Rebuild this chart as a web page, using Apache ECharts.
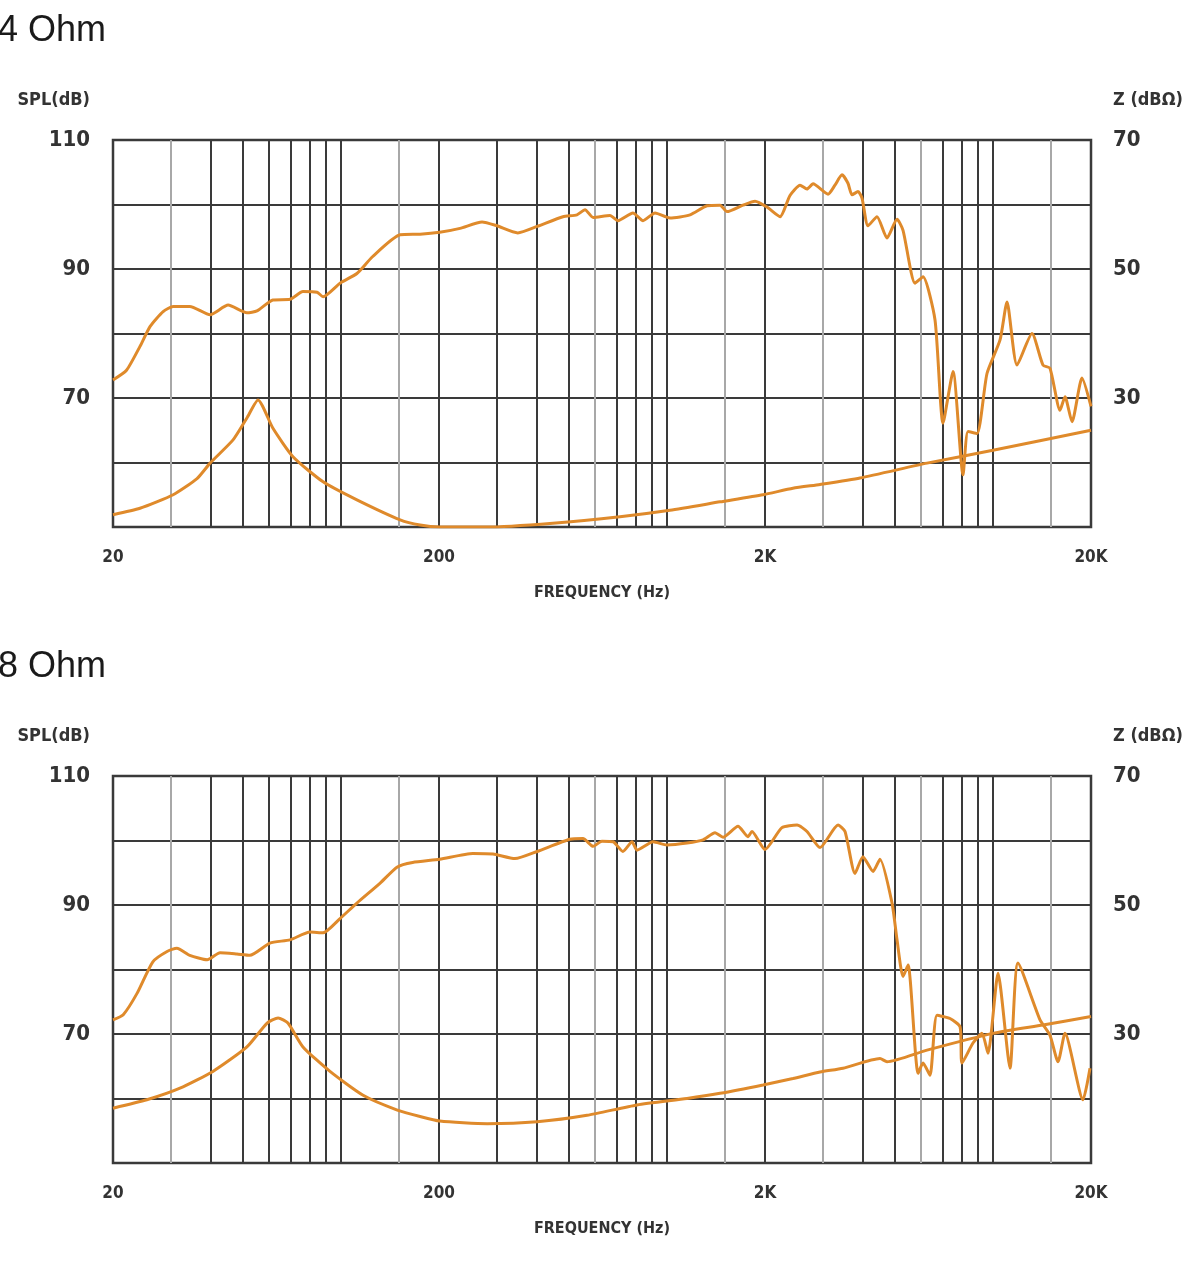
<!DOCTYPE html>
<html>
<head>
<meta charset="utf-8">
<script src="https://cdn.jsdelivr.net/npm/echarts@6/dist/echarts.min.js"></script>
<style>
html,body{margin:0;padding:0;background:#fff;}
#c{width:1202px;height:1280px;}
</style>
</head>
<body>
<div id="c"></div>
<script>
// ---------- DATA ----------
const panelTitles = ['4 Ohm', '8 Ohm'];
const xTickValues = [20, 200, 2000, 20000];
const xTickText = ['20', '200', '2K', '20K'];
const splTickLabels = [70, 90, 110];
const zTickLabels = [30, 50, 70];
const darkGridFreqs = [40, 50, 60, 70, 80, 90, 100, 200, 300, 400, 500, 700, 800, 900, 1000, 2000, 4000, 5000, 7000, 8000, 9000, 10000];
const lightGridFreqs = [30, 150, 600, 1500, 3000, 6000, 15000];

// 4 Ohm - SPL
const spl4Freq = [20, 22, 24.2, 26, 28.5, 30.6, 34.4, 39.7, 45.1, 51.5, 55.3, 61.9, 69.8, 76.5, 84.5, 88.2, 99.4, 112, 125, 152, 175, 201, 232, 271, 301, 349, 400, 480, 530, 561, 594, 669, 708, 787, 845, 920, 1022, 1178, 1328, 1456, 1529, 1712, 1864, 2028, 2224, 2386, 2562, 2690, 2808, 3122, 3278, 3446, 3594, 3698, 3858, 3968, 4140, 4412, 4734, 5082, 5302, 5770, 6106, 6646, 7032, 7548, 8100, 8390, 8942, 9594, 10520, 11050, 11858, 13184, 14250, 14970, 16070, 16646, 17490, 18768, 20000];
const spl4Val  = [72.8, 74.3, 78.0, 81.1, 83.4, 84.2, 84.2, 82.9, 84.4, 83.2, 83.5, 85.2, 85.3, 86.5, 86.4, 85.7, 87.8, 89.3, 91.9, 95.3, 95.4, 95.7, 96.3, 97.3, 96.7, 95.6, 96.6, 98.1, 98.4, 99.2, 98.0, 98.3, 97.5, 98.7, 97.5, 98.7, 97.9, 98.4, 99.8, 99.9, 98.9, 99.9, 100.5, 99.6, 98.1, 101.4, 103.0, 102.4, 103.2, 101.6, 103.0, 104.6, 103.3, 101.5, 102.0, 101.0, 96.7, 98.1, 94.8, 97.7, 96.0, 87.8, 88.8, 82.1, 66.1, 74.1, 58.1, 64.8, 64.5, 73.8, 79.0, 84.9, 75.1, 80.0, 75.1, 74.6, 68.1, 70.2, 66.3, 73.1, 68.7];
// 4 Ohm - impedance
const z4Freq = [20, 24.2, 30.6, 36.2, 39.7, 46.7, 51.5, 55.7, 61.9, 71.3, 88.2, 112, 152, 175, 201, 281, 447, 718, 1022, 1456, 1972, 2436, 2950, 3912, 6280, 10010, 20000];
const z4Val  = [11.9, 12.9, 15.0, 17.5, 19.9, 23.5, 26.9, 29.7, 25.3, 20.9, 17.0, 14.2, 11.1, 10.3, 10.0, 10.0, 10.6, 11.6, 12.6, 13.9, 15.0, 16.0, 16.6, 17.6, 19.9, 21.9, 25.0];

// 8 Ohm - SPL
const spl8Freq = [20, 21.5, 23.7, 26.5, 29.3, 31.4, 34.4, 38.9, 42.6, 48.0, 52.6, 60.6, 69.8, 80.4, 88.2, 99.4, 112, 132, 149, 166, 201, 254, 293, 342, 400, 504, 553, 594, 632, 684, 733, 782, 810, 907, 1001, 1153, 1291, 1405, 1487, 1653, 1773, 1824, 2000, 2254, 2508, 2690, 2950, 3350, 3520, 3776, 3994, 4290, 4506, 4906, 5082, 5302, 5494, 5896, 6106, 6414, 6740, 7388, 7932, 8040, 8690, 9260, 9662, 10372, 11288, 11942, 13952, 14970, 15846, 16646, 18902, 19858];
const spl8Val  = [72.2, 73.0, 76.3, 81.2, 82.8, 83.3, 82.2, 81.5, 82.6, 82.4, 82.2, 84.1, 84.6, 85.8, 85.7, 87.9, 90.3, 93.4, 95.9, 96.6, 97.1, 98.0, 97.9, 97.2, 98.3, 100.2, 100.3, 99.1, 99.9, 99.8, 98.3, 99.8, 98.5, 99.8, 99.3, 99.6, 100.1, 101.2, 100.5, 102.2, 100.6, 101.4, 98.6, 102.0, 102.4, 101.4, 98.9, 102.4, 101.4, 94.9, 97.5, 95.2, 97.1, 90.3, 84.6, 78.9, 80.7, 63.9, 65.5, 63.6, 72.9, 72.4, 71.1, 65.5, 68.6, 70.1, 67.0, 79.4, 64.7, 81.0, 72.2, 69.8, 65.7, 70.1, 59.8, 64.7];
// 8 Ohm - impedance
const z8Freq = [20, 25.4, 32.1, 40.5, 51.5, 59.4, 64.2, 68.8, 76.5, 92.6, 117, 149, 175, 201, 281, 400, 569, 810, 1153, 1456, 1972, 2436, 2950, 3470, 4506, 4734, 6280, 10010, 14250, 20000];
const z8Val  = [18.5, 19.8, 21.6, 24.2, 28.0, 31.7, 32.5, 31.7, 28.0, 24.2, 20.5, 18.2, 17.2, 16.5, 16.1, 16.4, 17.4, 19.0, 20.0, 20.8, 22.1, 23.1, 24.1, 24.7, 26.2, 25.7, 27.5, 30.1, 31.4, 32.7];

// ---------- STYLE ----------
const ORANGE = '#DF8A2B';
const DARK = '#3a3a3a';
const LIGHT = '#a8a8a8';
const NARROW = '"Liberation Sans Narrow", "DejaVu Sans Condensed", "Roboto Condensed", sans-serif';
const TEXT = '#333';

function zip(f, v) { return f.map((x, i) => [x, v[i]]); }
function xFmt(v) {
  const r = Math.round(v);
  const i = xTickValues.indexOf(r);
  return i >= 0 ? xTickText[i] : '';
}

const panels = [
  { top: 140, spl: zip(spl4Freq, spl4Val), z: zip(z4Freq, z4Val) },
  { top: 776, spl: zip(spl8Freq, spl8Val), z: zip(z8Freq, z8Val) }
];

const option = {
  animation: false,
  backgroundColor: '#fff',
  title: [],
  grid: [],
  xAxis: [],
  yAxis: [],
  series: []
};

panels.forEach((p, g) => {
  option.title.push({
    text: panelTitles[g], left: -2, top: p.top - 127, padding: 0,
    textStyle: { fontSize: 36, fontWeight: 'normal', color: '#1a1a1a', fontFamily: '"Liberation Sans", Arial, sans-serif' }
  });
  option.grid.push({
    left: 113, top: p.top, width: 978, height: 387,
    show: true, borderColor: DARK, borderWidth: 2.5, backgroundColor: 'transparent',
    containLabel: false, outerBoundsMode: 'none'
  });
  // main x axis: labels + dark grid lines
  option.xAxis.push({
    type: 'log', logBase: 10, min: 20, max: 20000, gridIndex: g,
    axisLine: { show: false },
    axisTick: { show: false, customValues: darkGridFreqs },
    axisLabel: { customValues: xTickValues, formatter: xFmt, margin: 22, fontSize: 17, fontWeight: 'bold', color: TEXT, fontFamily: NARROW },
    splitLine: { show: true, lineStyle: { color: DARK, width: 2 } },
    name: 'FREQUENCY (Hz)', nameLocation: 'middle', nameGap: 58,
    nameTextStyle: { fontSize: 16, fontWeight: 'bold', color: TEXT, fontFamily: NARROW }
  });
  // helper x axis: light grid lines
  option.xAxis.push({
    type: 'log', logBase: 10, min: 20, max: 20000, gridIndex: g, position: 'bottom',
    axisLine: { show: false },
    axisTick: { show: false, customValues: lightGridFreqs },
    axisLabel: { show: false },
    splitLine: { show: true, lineStyle: { color: LIGHT, width: 2 } }
  });
  option.yAxis.push({
    type: 'value', gridIndex: g, min: 50, max: 110, interval: 10, position: 'left',
    axisLine: { show: false }, axisTick: { show: false },
    axisLabel: { customValues: splTickLabels, margin: 23, fontSize: 22, fontWeight: 'bold', color: TEXT, fontFamily: NARROW },
    splitLine: { show: true, lineStyle: { color: DARK, width: 2 } },
    name: 'SPL(dB)', nameLocation: 'end', nameGap: 31,
    nameTextStyle: { fontSize: 18, fontWeight: 'bold', color: TEXT, fontFamily: NARROW, align: 'right', padding: [0, 23, 0, 0] }
  });
  option.yAxis.push({
    type: 'value', gridIndex: g, min: 10, max: 70, interval: 10, position: 'right',
    axisLine: { show: false }, axisTick: { show: false },
    axisLabel: { customValues: zTickLabels, margin: 22, fontSize: 22, fontWeight: 'bold', color: TEXT, fontFamily: NARROW },
    splitLine: { show: false },
    name: 'Z (dBΩ)', nameLocation: 'end', nameGap: 31,
    nameTextStyle: { fontSize: 18, fontWeight: 'bold', color: TEXT, fontFamily: NARROW, align: 'left', padding: [0, 0, 0, 22] }
  });
  option.series.push({
    type: 'line', name: 'SPL ' + panelTitles[g], xAxisIndex: 2 * g, yAxisIndex: 2 * g,
    data: p.spl, symbol: 'none', smooth: 0.2, z: 5,
    lineStyle: { color: ORANGE, width: 3 }
  });
  option.series.push({
    type: 'line', name: 'Z ' + panelTitles[g], xAxisIndex: 2 * g, yAxisIndex: 2 * g + 1,
    data: p.z, symbol: 'none', smooth: 0.2, z: 5,
    lineStyle: { color: ORANGE, width: 3 }
  });
});

const chart = echarts.init(document.getElementById('c'), null, { renderer: 'canvas' });
chart.setOption(option);
</script>
</body>
</html>
